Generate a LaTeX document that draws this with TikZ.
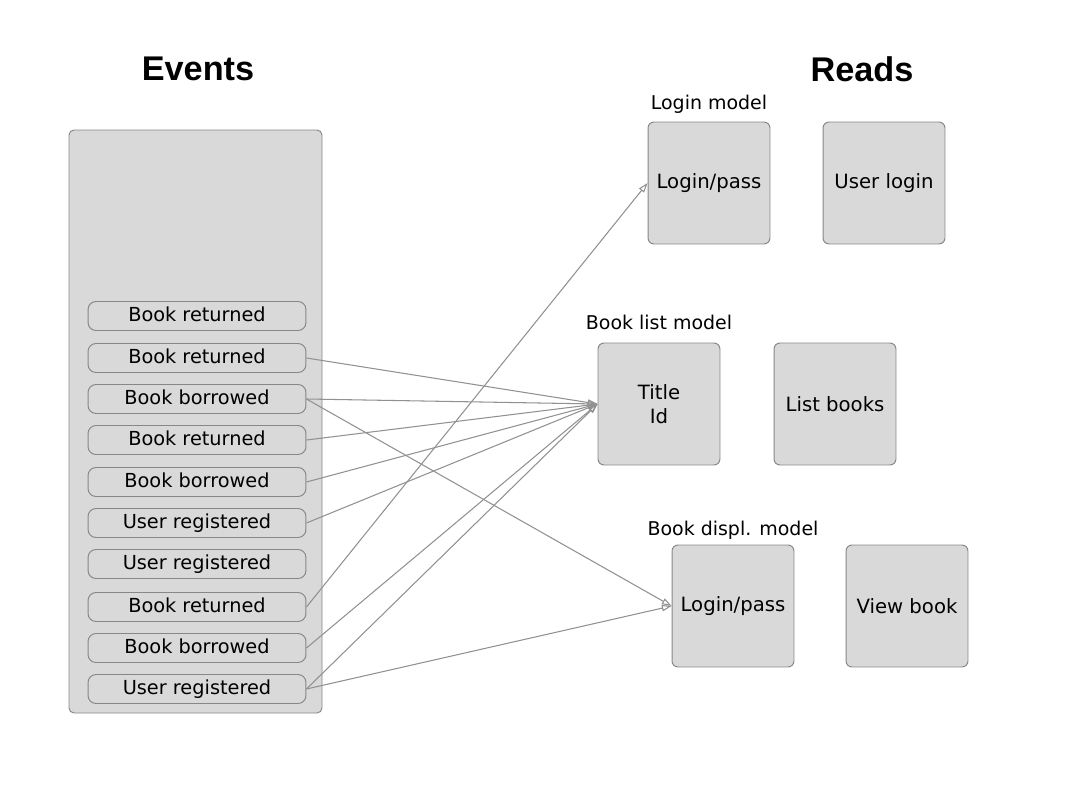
\documentclass[tikz,border=0pt]{standalone}
\usepackage{fontspec}
\setmainfont{DejaVu Sans}
\newfontfamily\headfont{Liberation Sans}
\usepackage{xcolor}
\usetikzlibrary{arrows.meta}
\usetikzlibrary{positioning}
\definecolor{boxfill}{RGB}{217,217,217}
\definecolor{boxline}{RGB}{135,135,135}
\definecolor{feedgray}{RGB}{145,145,145}

\begin{document}
\begin{tikzpicture}[x=0.02cm, y=-0.02cm,
	event/.style={draw=boxline, fill=boxfill, rounded corners=0.16cm, line width=0.55pt,
		minimum width=4.36cm, minimum height=0.58cm, inner sep=0pt,
		text height=1.55ex, text depth=0.45ex, font=\fontsize{11}{13}\selectfont},
	model/.style={draw=boxline, fill=boxfill, rounded corners=0.12cm, line width=0.55pt,
		minimum width=2.44cm, minimum height=2.44cm, inner sep=0pt, align=center,
		font=\fontsize{11.2}{14}\selectfont},
	caption/.style={anchor=base, font=\fontsize{10.8}{13}\selectfont},
	heading/.style={font=\headfont\bfseries\fontsize{19.5}{23}\selectfont},
	feed/.style={draw=feedgray, line width=0.6pt, -{Triangle[open,length=5.5pt,width=3.6pt]}}]
		
		\useasboundingbox (0,0) rectangle (1076,808);
		
		\node[heading] (events) at (198,69) {Events};
		\node[heading] (reads) at (862,69) {Reads};
		
		% event store
		\draw[draw=boxline, fill=boxfill, rounded corners=0.1cm, line width=0.55pt] (69,130) rectangle (322,713);
		
		\node[event] (e1) at (197,316) {Book returned};
		\node[event] (e2) at (197,358) {Book returned};
		\node[event] (e3) at (197,399) {Book borrowed};
		\node[event] (e4) at (197,440) {Book returned};
		\node[event] (e5) at (197,482) {Book borrowed};
		\node[event] (e6) at (197,523) {User registered};
		\node[event] (e7) at (197,564) {User registered};
		\node[event] (e8) at (197,607) {Book returned};
		\node[event] (e9) at (197,648) {Book borrowed};
		\node[event] (e10) at (197,689) {User registered};
		
		% read models
		\node[caption] (loginlbl) at (709,109) {Login model};
		\node[model] (login) at (709,183) {Login/pass};
		\node[model] (userlogin) at (884,183) {User login};
		
		\node[caption] (listlbl) at (659,329) {Book list model};
		\node[model] (title) at (659,404) {Title\\Id};
		\node[model] (listbooks) at (835,404) {List books};
		
		\node[caption] (displlbl) at (733,535) {Book displ. model};
		\node[model] (displ) at (733,606) {Login/pass};
		\node[model] (viewbook) at (907,606) {View book};
		
		\path
		(e2.east) edge[feed] (title.west)
		(e3.east) edge[feed] (title.west)
		(e3.east) edge[feed] (displ.west)
		(e4.east) edge[feed] (title.west)
		(e5.east) edge[feed] (title.west)
		(e6.east) edge[feed] (title.west)
		(e8.east) edge[feed] (login.west)
		(e9.east) edge[feed] (title.west)
		(e10.east) edge[feed] (title.west)
		(e10.east) edge[feed] (displ.west)
		;
		\end{tikzpicture}
\end{document}
